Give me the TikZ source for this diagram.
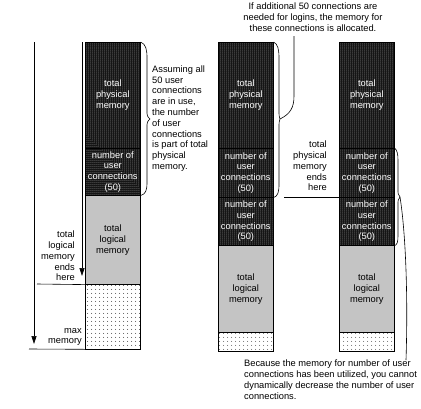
\documentclass[tikz,border=0pt]{standalone}
\usepackage{fontspec}
\setmainfont{Liberation Sans}
\usetikzlibrary{patterns.meta,arrows.meta}
\begin{document}
\begin{tikzpicture}[x=1pt,y=-1pt,
  every node/.style={font=\fontsize{9.3}{10.8}\selectfont, inner sep=0pt},
  col/.style={draw=black, line width=0.6pt, minimum width=55pt, anchor=north west, align=center, inner sep=0pt},
  phys/.style={col, preaction={fill=black}, pattern={Dots[distance=2pt,radius=0.5pt]}, pattern color=white, text=white},
  logi/.style={col, preaction={fill=white}, pattern={Dots[distance=2pt,radius=0.72pt]}, pattern color=black},
  free/.style={col, preaction={fill=white}, pattern={Dots[distance=4pt,radius=0.5pt]}, pattern color=black},
  note/.style={align=left},
  rnote/.style={align=right},
  ln/.style={line width=0.6pt},
  arr/.style={ln, -{Triangle[length=8pt,width=5pt]}}
]
\useasboundingbox (0,0) rectangle (421,408);

% column 1
\node[phys, minimum height=106pt] (c1p) at (85,42) {total\\physical\\memory};
\node[phys, minimum height=47pt] (c1u) at (85,148) {number of\\user\\connections\\(50)};
\node[logi, minimum height=89pt] (c1l) at (85,195) {total\\logical\\memory};
\node[free, minimum height=65pt] (c1f) at (85,284) {};

% column 2
\node[phys, minimum height=106pt] (c2p) at (218,42) {total\\physical\\memory};
\node[phys, minimum height=49pt] (c2u1) at (218,148) {number of\\user\\connections\\(50)};
\node[phys, minimum height=48pt] (c2u2) at (218,197) {number of\\user\\connections\\(50)};
\node[logi, minimum height=87pt] (c2l) at (218,245) {total\\logical\\memory};
\node[free, minimum height=19pt] (c2f) at (218,332) {};

% column 3
\node[phys, minimum height=106pt] (c3p) at (339,42) {total\\physical\\memory};
\node[phys, minimum height=49pt] (c3u1) at (339,148) {number of\\user\\connections\\(50)};
\node[phys, minimum height=48pt] (c3u2) at (339,197) {number of\\user\\connections\\(50)};
\node[logi, minimum height=87pt] (c3l) at (339,245) {total\\logical\\memory};
\node[free, minimum height=19pt] (c3f) at (339,332) {};

% left arrows and lines
\coordinate (a1s) at (34,42);
\coordinate (a1e) at (34,344);
\coordinate (a2s) at (82,42);
\coordinate (a2e) at (82,276);
\draw[arr] (a1s) -- (a1e);
\draw[arr] (a2s) -- (a2e);
\coordinate (h1) at (37,284);
\draw[ln] (h1) -- (c1l.south west);
\coordinate (h2) at (29,349);
\draw[ln] (h2) -- (c1f.south east);

% texts
\node[rnote, anchor=east] (tlm) at (75,256) {total\\logical\\memory\\ends\\here};
\node[rnote, anchor=east] (maxm) at (82,337) {max\\memory};
\node[note, anchor=west] (assume) at (152,118.5) {Assuming all\\50 user\\connections\\are in use,\\the number\\of user\\connections\\is part of total\\physical\\memory.};
\node[align=center] (topnote) at (313,17) {If additional 50 connections are\\needed for logins, the memory for\\these connections is allocated.};
\node[rnote, anchor=east] (tpm) at (327,166) {total\\physical\\memory\\ends\\here};
\node[note, anchor=west] (bottomnote) at (244,379.5) {Because the memory for number of user\\connections has been utilized, you cannot\\dynamically decrease the number of user\\connections.};

\coordinate (h3) at (284,197);
\draw[ln] (h3) -- (c3u2.north west);

% brace column 1
\draw[ln] (c1p.north east) .. controls (146,44) and (147,50) .. (147,58) -- (147,110)
  .. controls (147,116) .. (150,119) .. controls (147,122) .. (147,128) -- (147,182)
  .. controls (147,190) and (146,194) .. (c1u.south east);

% brace column 2 with connector to top note
\coordinate (tip2) at (280,119);
\coordinate (t2) at (294,36);
\draw[ln] (c2p.north east) .. controls (278,44) and (279,50) .. (279,58) -- (279,110)
  .. controls (279,116) .. (tip2) .. controls (279,122) .. (279,128) -- (279,184)
  .. controls (279,192) and (278,196) .. (c2u1.south east);
\draw[ln] (tip2) .. controls (290,114) and (294,108) .. (294,96) -- (t2);

% brace column 3 with connector to bottom note
\coordinate (tip3) at (400,197);
\coordinate (b3) at (406,360);
\draw[ln] (c3u1.north east) .. controls (397,150) and (398,154) .. (398,160) -- (398,190)
  .. controls (398,194) .. (tip3) .. controls (398,200) .. (398,204) -- (398,236)
  .. controls (398,242) and (397,245) .. (c3u2.south east);
\draw[ln] (tip3) .. controls (406,235) and (408,300) .. (b3);
\end{tikzpicture}
\end{document}
